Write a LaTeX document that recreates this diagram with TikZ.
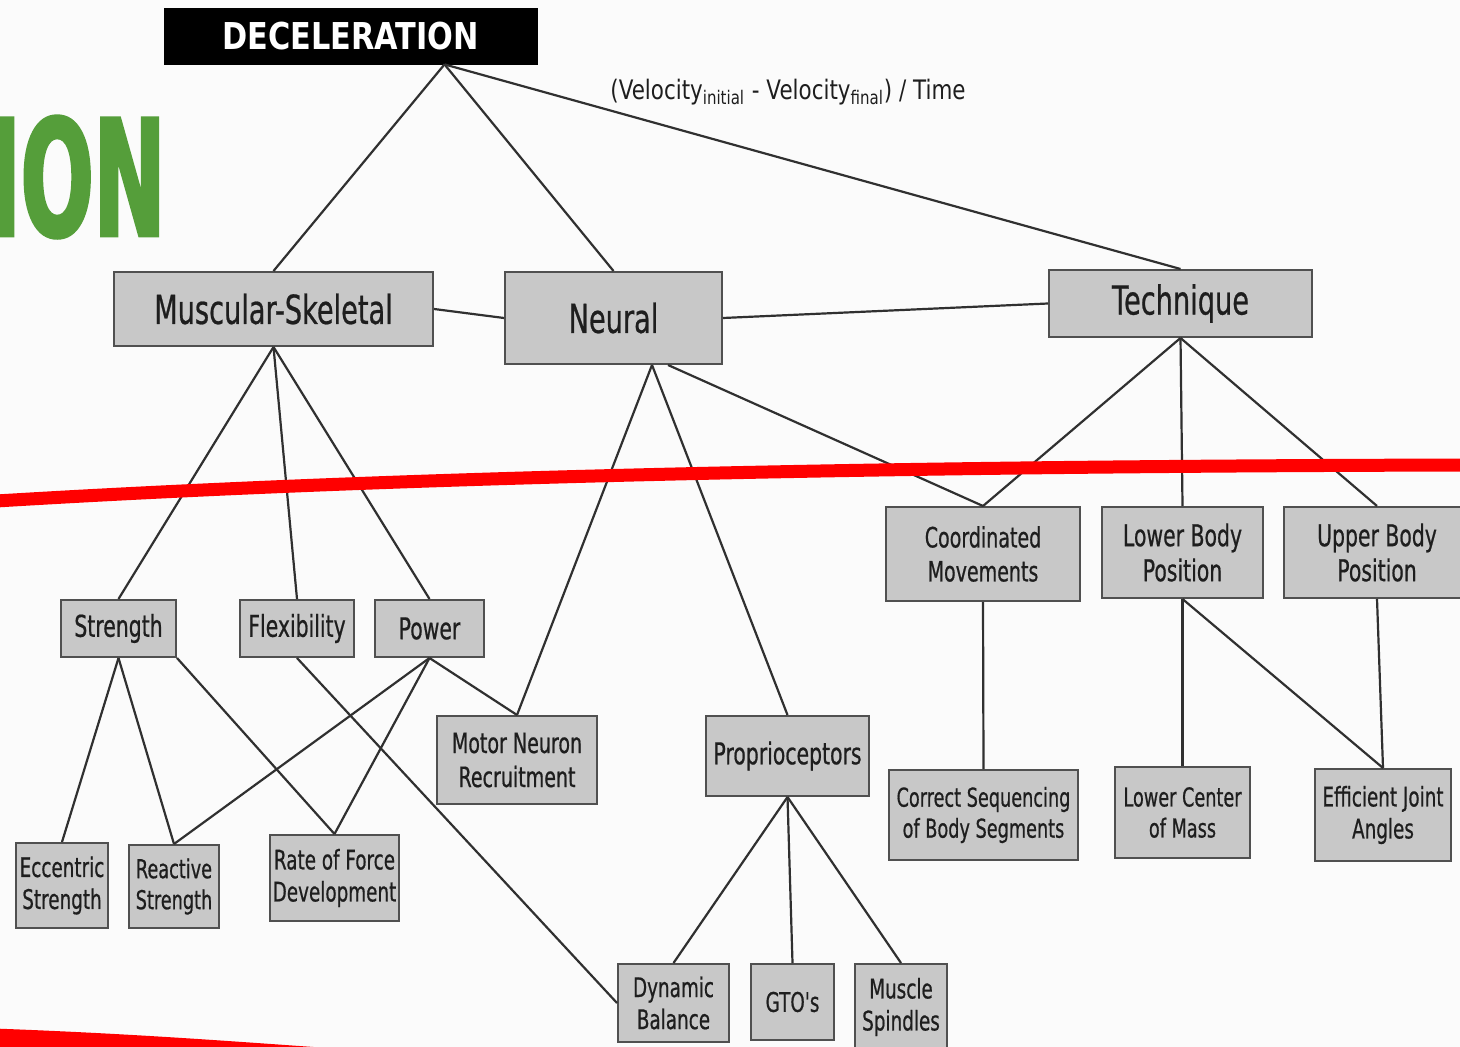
\documentclass[tikz,border=0pt]{standalone}
\usepackage{fontspec}
\setmainfont{DejaVu Sans}
\newfontfamily\boxfnt[FakeStretch=0.68,FakeBold=0.6]{DejaVu Sans}
\newfontfamily\decfnt[FakeStretch=0.82]{DejaVu Sans Bold}
\newfontfamily\frmfnt[FakeStretch=0.8]{DejaVu Sans}
\newfontfamily\ionfnt[FakeStretch=0.53,FakeBold=1.8]{DejaVu Sans Bold}
\usetikzlibrary{calc}
\definecolor{boxfill}{HTML}{C8C8C8}
\definecolor{boxline}{HTML}{505050}
\definecolor{txt}{HTML}{1E1E1E}
\definecolor{conncol}{HTML}{303030}
\definecolor{iongreen}{HTML}{559E3A}
\definecolor{redline}{HTML}{FF0000}
\definecolor{bgcol}{HTML}{FBFBFB}
\begin{document}
\begin{tikzpicture}[x=0.5pt,y=-0.5pt,
  box/.style={draw=boxline, fill=boxfill, line width=1pt, inner sep=0pt, text=txt, align=center},
  lvlone/.style={box, font=\boxfnt\fontsize{20}{24}\selectfont},
  lvlbig/.style={box, font=\boxfnt\fontsize{15}{17.5}\selectfont},
  lvlmid/.style={box, font=\boxfnt\fontsize{14}{17}\selectfont},
  lvlsmall/.style={box, font=\boxfnt\fontsize{13.5}{16}\selectfont},
  conn/.style={draw=conncol, line width=1.1pt},
  redstroke/.style={draw=redline, line cap=round}
]
\useasboundingbox (0,0) rectangle (1460,1047);
\fill[bgcol] (0,0) rectangle (1460,1047);
\clip (0,0) rectangle (1460,1047);

% green partial title
\node[anchor=base east, inner sep=0pt, text=iongreen, font=\ionfnt\fontsize{81}{81}\selectfont] (ion) at (166,236) {TION};

% top
\node[fill=black, draw=black, inner sep=0pt, minimum width=186.5pt, minimum height=28pt, text=white, font=\decfnt\fontsize{18.5}{20}\selectfont] (dec) at (350.5,36) {DECELERATION};
\node[anchor=base, inner sep=0pt, text=txt, font=\frmfnt\fontsize{13.4}{16}\selectfont] (formula) at (788,100) {(Velocity\textsubscript{initial} - Velocity\textsubscript{final}) / Time};

% level 1
\node[lvlone, minimum width=159.5pt, minimum height=37pt] (ms) at (273.5,309) {Muscular-Skeletal};
\node[lvlone, minimum width=108.5pt, minimum height=46pt] (neural) at (613.5,318) {Neural};
\node[lvlone, minimum width=131.5pt, minimum height=33.5pt] (tech) at (1180.5,303.5) {Technique};

% level 2
\node[lvlbig, minimum width=57.5pt, minimum height=28.5pt] (strength) at (118.5,628.5) {Strength};
\node[lvlbig, minimum width=57pt, minimum height=28.5pt] (flex) at (297,628.5) {Flexibility};
\node[lvlbig, minimum width=54.5pt, minimum height=28.5pt] (power) at (429.5,628.5) {Power};
\node[lvlmid, minimum width=97pt, minimum height=47pt] (coord) at (983,554) {Coordinated\\Movements};
\node[lvlbig, minimum width=80.5pt, minimum height=45.5pt] (lbp) at (1182.5,552.5) {Lower Body\\Position};
\node[lvlbig, minimum width=93pt, minimum height=45.5pt] (ubp) at (1377,552.5) {Upper Body\\Position};

% level 3
\node[lvlmid, minimum width=80pt, minimum height=44pt] (mnr) at (517,760) {Motor Neuron\\Recruitment};
\node[lvlbig, minimum width=81.5pt, minimum height=40pt] (prop) at (787.5,756) {Proprioceptors};
\node[lvlsmall, font=\boxfnt\fontsize{13}{15.5}\selectfont, minimum width=94.5pt, minimum height=45pt] (csbs) at (983.5,815) {Correct Sequencing\\of Body Segments};
\node[lvlsmall, font=\boxfnt\fontsize{13}{15.5}\selectfont, minimum width=67.5pt, minimum height=45.5pt] (lcm) at (1182.5,812.5) {Lower Center\\of Mass};
\node[lvlsmall, minimum width=68pt, minimum height=46pt] (eja) at (1383,815) {Efficient Joint\\Angles};

% level 4
\node[lvlsmall, minimum width=46pt, minimum height=42.5pt] (ecc) at (62,885.5) {Eccentric\\Strength};
\node[lvlsmall, font=\boxfnt\fontsize{13}{15.5}\selectfont, minimum width=45pt, minimum height=41.5pt] (react) at (174,886.5) {Reactive\\Strength};
\node[lvlsmall, minimum width=64.5pt, minimum height=43pt] (rfd) at (334.5,878) {Rate of Force\\Development};
\node[lvlsmall, minimum width=55.5pt, minimum height=39pt] (db) at (673.5,1003) {Dynamic\\Balance};
\node[lvlsmall, minimum width=41.5pt, minimum height=38pt] (gto) at (792.5,1002) {GTO's};
\node[lvlsmall, minimum width=46pt, minimum height=43pt] (spind) at (901,1007) {Muscle\\Spindles};

% connectors
\draw[conn] ([xshift=47pt]dec.south) -- (ms.north);
\draw[conn] ([xshift=47pt]dec.south) -- (neural.north);
\draw[conn] ([xshift=47pt]dec.south) -- (tech.north);
\draw[conn] (ms.east) -- (neural.west);
\draw[conn] (neural.east) -- (tech.west);

\draw[conn] (ms.south) -- (strength.north);
\draw[conn] (ms.south) -- (flex.north);
\draw[conn] (ms.south) -- (power.north);

\draw[conn] ([xshift=19.25pt]neural.south) -- (mnr.north);
\draw[conn] ([xshift=19.25pt]neural.south) -- (prop.north);
\draw[conn] ([xshift=27.25pt]neural.south) -- (coord.north);

\draw[conn] (tech.south) -- (coord.north);
\draw[conn] (tech.south) -- (lbp.north);
\draw[conn] (tech.south) -- (ubp.north);

\draw[conn] (coord.south) -- (csbs.north);
\draw[conn] (lbp.south) -- (lcm.north);
\draw[conn] (lbp.south) -- (eja.north);
\draw[conn] (ubp.south) -- (eja.north);

\draw[conn] (strength.south) -- (ecc.north);
\draw[conn] (strength.south) -- (react.north);
\draw[conn] (strength.south east) -- (rfd.north);
\draw[conn] (power.south) -- (react.north);
\draw[conn] (power.south) -- (rfd.north);
\draw[conn] (power.south) -- (mnr.north);
\draw[conn] (flex.south) -- (db.west);

\draw[conn] (prop.south) -- (db.north);
\draw[conn] (prop.south) -- (gto.north);
\draw[conn] (prop.south) -- (spind.north);

% red strokes
\draw[redstroke, line width=6.5pt] (-20,502) .. controls (400,476) and (900,466) .. (1480,465);
\draw[redstroke, line width=12pt] (-20,1040) .. controls (150,1046) and (250,1055) .. (400,1065);
\end{tikzpicture}
\end{document}
